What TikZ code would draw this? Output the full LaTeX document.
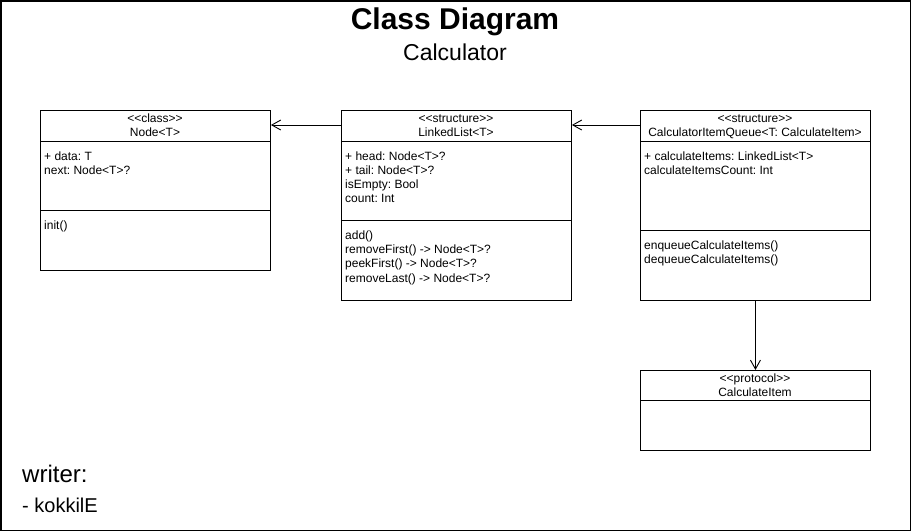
\documentclass[tikz,border=0pt]{standalone}
\usepackage{fontspec}
\setmainfont{Liberation Sans}
\usetikzlibrary{arrows.meta}
\newcommand\stlt{<\kern0pt<}
\newcommand\stgt{>\kern0pt>}
\begin{document}
\frenchspacing
\begin{tikzpicture}[x=1pt,y=-1pt,
  box/.style={draw,line width=0.9pt,anchor=north west,inner sep=0pt,minimum width=230pt},
  sep/.style={line width=0.9pt},
  txt/.style={inner sep=0pt,anchor=base west,font=\fontsize{12}{14}\selectfont},
  hdr/.style={inner sep=0pt,anchor=base,font=\fontsize{12}{14}\selectfont},
  dep/.style={line width=0.9pt,-{Straight Barb[length=9pt,width=10pt]}}]
\useasboundingbox (0,0) rectangle (911,531);
\draw[line width=1.5pt] (0.75,0.75) rectangle (910.25,530.25);
\node[inner sep=0pt,anchor=base,font=\fontsize{30}{34}\selectfont\bfseries] (title) at (455,29.5) {Class Diagram};
\node[inner sep=0pt,anchor=base,font=\fontsize{23}{27}\selectfont] (sub) at (455,60) {Calculator};

% Node<T>
\node[box,minimum height=160pt] (nodeT) at (40,110) {};
\draw[sep] (40,141) -- (270,141);
\draw[sep] (40,210.5) -- (270,210.5);
\node[hdr] (n1) at (155,122.5) {\stlt class\stgt};
\node[hdr] (n2) at (155,136) {Node<T>};
\foreach \t [count=\i from 0] in {+ data: T, next: Node<T>?}
  \node[txt] (na\i) at (44,160+14.2*\i) {\t};
\node[txt] (nm0) at (44,229.5) {init()};

% LinkedList<T>
\node[box,minimum height=190pt] (ll) at (341,110) {};
\draw[sep] (341,141) -- (571,141);
\draw[sep] (341,220.5) -- (571,220.5);
\node[hdr] (l1) at (456,122.5) {\stlt structure\stgt};
\node[hdr] (l2) at (456,136) {LinkedList<T>};
\foreach \t [count=\i from 0] in {+ head: Node<T>?, + tail: Node<T>?, isEmpty: Bool, count: Int}
  \node[txt] (la\i) at (345,160+14.2*\i) {\t};
\foreach \t [count=\i from 0] in {add(), removeFirst() -> Node<T>?, peekFirst() -> Node<T>?, removeLast() -> Node<T>?}
  \node[txt] (lm\i) at (345,239.5+14.2*\i) {\t};

% CalculatorItemQueue
\node[box,minimum height=190pt] (q) at (640,110) {};
\draw[sep] (640,141) -- (870,141);
\draw[sep] (640,230) -- (870,230);
\node[hdr] (q1) at (755,122.5) {\stlt structure\stgt};
\node[hdr] (q2) at (755,136) {CalculatorItemQueue<T: CalculateItem>};
\foreach \t [count=\i from 0] in {+ calculateItems: LinkedList<T>, calculateItemsCount: Int}
  \node[txt] (qa\i) at (644,160+14.2*\i) {\t};
\foreach \t [count=\i from 0] in {enqueueCalculateItems(), dequeueCalculateItems()}
  \node[txt] (qm\i) at (644,249+14.2*\i) {\t};

% CalculateItem
\node[box,minimum height=80pt] (ci) at (640,370) {};
\draw[sep] (640,400) -- (870,400);
\node[hdr] (c1) at (755,382.5) {\stlt protocol\stgt};
\node[hdr] (c2) at (755,396) {CalculateItem};

% connectors
\draw[dep] (ll.west |- 0,125) -- (nodeT.east |- 0,125);
\draw[dep] (q.west |- 0,125) -- (ll.east |- 0,125);
\draw[dep] (q.south) -- (ci.north);

\node[inner sep=0pt,anchor=base west,font=\fontsize{24}{28}\selectfont] (w) at (22,482) {writer:};
\node[inner sep=0pt,anchor=base west,font=\fontsize{20}{24}\selectfont] (k) at (22,512) {- kokkilE};
\end{tikzpicture}
\end{document}
